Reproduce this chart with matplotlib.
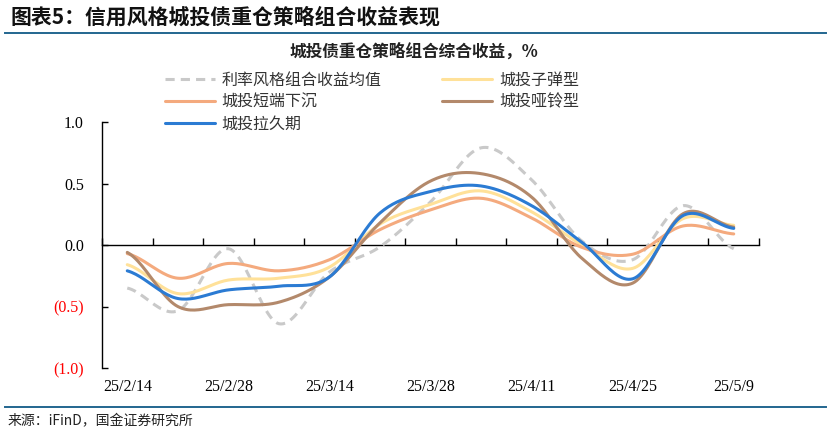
"""城投债重仓策略组合综合收益 (weekly, %), Excel-style smoothed lines."""
import matplotlib
matplotlib.use("Agg")
import matplotlib.pyplot as plt
import numpy as np
from matplotlib.lines import Line2D

plt.rcParams["font.family"] = ["Noto Sans CJK SC", "DejaVu Sans"]

# --- data: weekly categories, one observation per week ---
categories = ["25/2/14", "25/2/21", "25/2/28", "25/3/7", "25/3/14", "25/3/21", "25/3/28",
              "25/4/4", "25/4/11", "25/4/18", "25/4/25", "25/5/2", "25/5/9"]
rate_avg = [-0.35, -0.535, -0.03, -0.64, -0.22, -0.015, 0.35, 0.79, 0.53, 0.03, -0.12, 0.32, -0.03]
bullet = [-0.16, -0.395, -0.285, -0.27, -0.18, 0.17, 0.33, 0.44, 0.27, 0.0, -0.19, 0.215, 0.16]
short_sink = [-0.07, -0.27, -0.15, -0.21, -0.12, 0.125, 0.285, 0.38, 0.22, -0.02, -0.075, 0.155, 0.09]
barbell = [-0.06, -0.50, -0.485, -0.465, -0.26, 0.18, 0.52, 0.58, 0.39, -0.11, -0.31, 0.255, 0.145]
extend = [-0.21, -0.435, -0.365, -0.335, -0.26, 0.26, 0.435, 0.48, 0.32, 0.02, -0.275, 0.24, 0.135]
yticks = [-1.0, -0.5, 0.0, 0.5, 1.0]
ytick_labels = ["(1.0)", "(0.5)", "0.0", "0.5", "1.0"]


def smooth(y, n=24):
    """Excel 'smoothed line': cubic Bezier through each point (Catmull-Rom tangents)."""
    y = np.asarray(y, float)
    x = np.arange(len(y)) + 0.5
    xs, ys = [], []
    t = np.linspace(0, 1, n, endpoint=False)
    for i in range(len(y) - 1):
        p0 = y[i - 1] if i > 0 else y[i]
        p3 = y[i + 2] if i + 2 < len(y) else y[i + 1]
        p1, p2 = y[i], y[i + 1]
        c1 = p1 + (p2 - p0) / 6
        c2 = p2 - (p3 - p1) / 6
        ys.append((1 - t) ** 3 * p1 + 3 * (1 - t) ** 2 * t * c1 + 3 * (1 - t) * t ** 2 * c2 + t ** 3 * p2)
        xs.append(x[i] + t)
    xs.append([x[-1]]); ys.append([y[-1]])
    return np.concatenate(xs), np.concatenate(ys)


fig = plt.figure(figsize=(8.31, 4.36), dpi=100)
ax = fig.add_axes([102 / 831, 1 - 368 / 436, (759 - 102) / 831, (368 - 122) / 436])

series = [
    ("利率风格组合收益均值", rate_avg, "#C9C9C9", "--"),
    ("城投子弹型", bullet, "#FFE199", "-"),
    ("城投短端下沉", short_sink, "#F4AA7E", "-"),
    ("城投哑铃型", barbell, "#B3896B", "-"),
    ("城投拉久期", extend, "#2B7BD3", "-"),
]
handles = {}
for z, (name, vals, color, ls) in enumerate(series):
    xs, ys = smooth(vals)
    (h,) = ax.plot(xs, ys, color=color, lw=2.2, ls=ls, label=name, zorder=3 + z,
                   dashes=(3, 2) if ls == "--" else (None, None), solid_capstyle="round")
    handles[name] = h

ax.set_xlim(0, len(categories))
ax.set_ylim(-1.0, 1.0)
for s in ("top", "right"):
    ax.spines[s].set_visible(False)
ax.spines["bottom"].set_position(("data", 0))
ax.spines["bottom"].set_linewidth(1.0)
ax.spines["left"].set_linewidth(1.0)
ax.set_xticks(np.arange(len(categories) + 1))
ax.tick_params(axis="x", direction="in", length=5, width=1.0, labelbottom=False)
ax.set_yticks(yticks, ytick_labels)
ax.tick_params(axis="y", direction="in", length=4, width=1.0, pad=13)
for lab in ax.get_yticklabels():
    lab.set_fontfamily("Liberation Serif")
    lab.set_fontsize(11.5)
    if lab.get_text().startswith("("):
        lab.set_color("#FF0000")

# date labels sit under the plot, every second week, centred in the slot
sec = ax.secondary_xaxis("bottom")
sec.spines["bottom"].set_visible(False)
sec.set_xticks(np.arange(0, len(categories), 2) + 0.5, categories[::2])
sec.tick_params(length=0, pad=8)
for lab in sec.get_xticklabels():
    lab.set_fontfamily("Liberation Serif")
    lab.set_fontsize(11.5)

order = ["利率风格组合收益均值", "城投短端下沉", "城投拉久期", "城投子弹型", "城投哑铃型"]
fig.legend([handles[k] for k in order], order, ncol=2, loc="upper left",
           bbox_to_anchor=(165 / 831, 1 - 72 / 436), frameon=False,
           handlelength=3.1, handletextpad=0.45, columnspacing=3.8, labelspacing=0.3,
           borderpad=0, borderaxespad=0, prop={"size": 11.5})
for t in fig.legends[0].get_texts():
    t.set_color("#333333")

fig.text(414 / 831, 1 - 52 / 436, "城投债重仓策略组合综合收益，%", ha="center", va="center",
         fontsize=12, fontweight="bold", color="#222222")
fig.text(10 / 831, 1 - 17 / 436, "图表5：信用风格城投债重仓策略组合收益表现", ha="left", va="center",
         fontsize=15, fontweight="bold", color="#111111")
fig.add_artist(Line2D([5 / 831, 826 / 831], [1 - 33 / 436] * 2, color="#22668F", lw=1.4))
fig.add_artist(Line2D([5 / 831, 826 / 831], [1 - 407 / 436] * 2, color="#22668F", lw=1.4))
fig.text(8 / 831, 1 - 421 / 436, "来源：iFinD，国金证券研究所", ha="left", va="center",
         fontsize=10, color="#222222")

fig.savefig("out.png", dpi=100, facecolor="white")
